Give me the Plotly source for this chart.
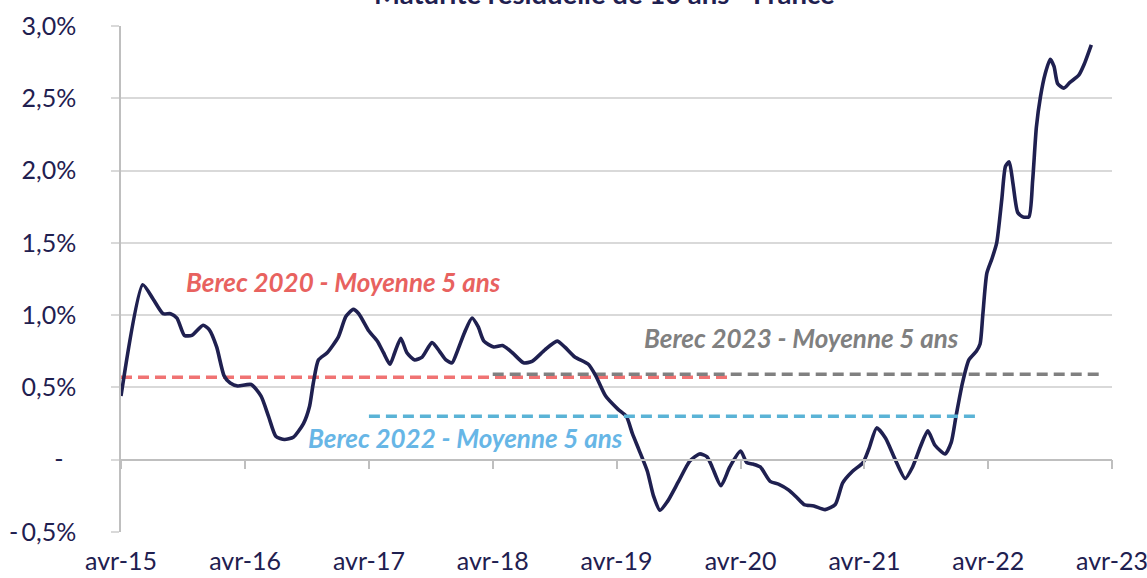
import plotly.graph_objects as go

# ---- Data ----
dates = [
    "2015-04-01", "2015-06-04", "2015-07-05", "2015-08-03", "2015-08-25", "2015-09-13",
    "2015-10-05", "2015-10-27", "2015-11-29", "2015-12-17", "2016-01-08", "2016-01-30",
    "2016-02-17", "2016-03-10", "2016-04-19", "2016-05-18", "2016-06-09", "2016-07-01",
    "2016-07-26", "2016-08-21", "2016-09-20", "2016-10-08", "2016-10-19", "2016-11-03",
    "2016-11-29", "2017-01-01", "2017-01-23", "2017-02-14", "2017-03-02", "2017-04-01",
    "2017-04-26", "2017-05-14", "2017-06-02", "2017-06-16", "2017-07-04", "2017-07-22",
    "2017-08-14", "2017-09-05", "2017-10-04", "2017-10-26", "2017-11-14", "2017-12-02",
    "2017-12-16", "2018-01-08", "2018-01-30", "2018-02-17", "2018-03-06", "2018-04-04",
    "2018-04-30", "2018-05-29", "2018-07-01", "2018-07-26", "2018-09-02", "2018-10-08",
    "2018-10-30", "2018-11-29", "2019-01-08", "2019-01-30", "2019-02-28", "2019-04-05",
    "2019-04-30", "2019-05-18", "2019-06-06", "2019-07-01", "2019-07-19", "2019-08-07",
    "2019-08-29", "2019-10-01", "2019-11-03", "2019-12-02", "2019-12-24", "2020-01-08",
    "2020-02-03", "2020-02-29", "2020-04-01", "2020-04-19", "2020-05-07", "2020-05-29",
    "2020-06-27", "2020-07-23", "2020-08-21", "2020-09-13", "2020-10-05", "2020-11-03",
    "2020-12-06", "2021-01-05", "2021-01-27", "2021-02-25", "2021-03-28", "2021-04-15",
    "2021-05-07", "2021-06-02", "2021-07-01", "2021-07-30", "2021-08-21", "2021-09-13",
    "2021-10-05", "2021-10-26", "2021-11-25", "2021-12-13", "2021-12-27", "2022-01-15",
    "2022-02-03", "2022-02-25", "2022-03-08", "2022-03-16", "2022-03-28", "2022-04-12",
    "2022-04-26", "2022-05-11", "2022-05-22", "2022-06-02", "2022-06-13", "2022-06-27",
    "2022-07-12", "2022-07-30", "2022-08-10", "2022-08-21", "2022-09-02", "2022-09-16",
    "2022-10-01", "2022-10-12", "2022-10-23", "2022-11-10", "2022-11-28", "2022-12-24",
    "2023-01-08", "2023-01-30",
]
rates = [
    0.44, 1.21, 1.11, 1.01, 1.01, 0.98,
    0.86, 0.86, 0.93, 0.90, 0.78, 0.58,
    0.53, 0.51, 0.52, 0.44, 0.30, 0.16,
    0.14, 0.155, 0.25, 0.37, 0.53, 0.69,
    0.74, 0.85, 0.99, 1.04, 1.01, 0.89,
    0.82, 0.74, 0.66, 0.74, 0.84, 0.74,
    0.69, 0.71, 0.81, 0.75, 0.69, 0.67,
    0.74, 0.88, 0.98, 0.92, 0.82, 0.78,
    0.79, 0.74, 0.67, 0.68, 0.76, 0.82,
    0.78, 0.71, 0.66, 0.58, 0.44, 0.35,
    0.30, 0.18, 0.07, -0.08, -0.25, -0.35,
    -0.29, -0.15, -0.01, 0.04, 0.02, -0.05,
    -0.18, -0.05, 0.06, -0.02, -0.03, -0.05,
    -0.15, -0.17, -0.21, -0.26, -0.31, -0.32,
    -0.345, -0.31, -0.16, -0.08, -0.02, 0.08,
    0.22, 0.15, 0.00, -0.13, -0.05, 0.09,
    0.20, 0.10, 0.04, 0.12, 0.30, 0.53,
    0.69, 0.75, 0.80, 1.00, 1.29, 1.39,
    1.50, 1.80, 2.03, 2.06, 1.91, 1.71,
    1.68, 1.68, 1.93, 2.30, 2.51, 2.67,
    2.77, 2.72, 2.60, 2.57, 2.61, 2.66,
    2.73, 2.87,
]

berec2020_dates = ["2015-04-01", "2020-03-01"]
berec2020_value = 0.571
berec2022_dates = ["2017-04-01", "2022-03-01"]
berec2022_value = 0.300
berec2023_dates = ["2018-04-01", "2023-03-01"]
berec2023_value = 0.592

x_tick_dates = ["2015-04-01", "2016-04-01", "2017-04-01", "2018-04-01", "2019-04-01",
                "2020-04-01", "2021-04-01", "2022-04-01", "2023-04-01"]
x_tick_labels = ["avr-15", "avr-16", "avr-17", "avr-18", "avr-19",
                 "avr-20", "avr-21", "avr-22", "avr-23"]
y_tick_values = [-0.5, 0.0, 0.5, 1.0, 1.5, 2.0, 2.5, 3.0]
y_tick_labels = ["-\u20090,5%", "-\u00a0\u00a0", "0,5%", "1,0%", "1,5%", "2,0%", "2,5%", "3,0%"]

title_text = "Maturité résiduelle de 10 ans - France"
label_2020 = "Berec 2020 - Moyenne 5 ans"
label_2022 = "Berec 2022 - Moyenne 5 ans"
label_2023 = "Berec 2023 - Moyenne 5 ans"

# ---- Styles ----
NAVY = "#1f2050"
RED = "#f07373"
RED_TXT = "#e8625f"
GREY = "#808080"
BLUE = "#5ab3d6"
BLUE_TXT = "#67b6e6"
GRID = "#d9d9d9"
AXIS = "#bfbfbf"
FONT = "Lato"

x_range = ["2015-04-01", "2023-04-01"]
y_range = [-0.5, 3.0]

fig = go.Figure()

fig.add_trace(go.Scatter(
    x=berec2020_dates, y=[berec2020_value] * len(berec2020_dates), mode="lines",
    line=dict(color=RED, width=3.5, dash="11px,6px"), hoverinfo="skip", showlegend=False))
fig.add_trace(go.Scatter(
    x=berec2023_dates, y=[berec2023_value] * len(berec2023_dates), mode="lines",
    line=dict(color=GREY, width=3.5, dash="11px,6px"), hoverinfo="skip", showlegend=False))
fig.add_trace(go.Scatter(
    x=berec2022_dates, y=[berec2022_value] * len(berec2022_dates), mode="lines",
    xaxis="x2", line=dict(color=BLUE, width=3.5, dash="11px,6px"),
    hoverinfo="skip", showlegend=False))
fig.add_trace(go.Scatter(
    x=dates, y=rates, mode="lines",
    line=dict(color=NAVY, width=3.6, shape="spline", smoothing=0.6),
    showlegend=False))

zero_pos = (0 - y_range[0]) / (y_range[1] - y_range[0])

fig.update_layout(
    width=1147, height=578,
    margin=dict(l=121, r=35, t=26, b=46),
    plot_bgcolor="white", paper_bgcolor="white",
    font=dict(family=FONT, size=25, color=NAVY),
    xaxis=dict(
        type="date", range=x_range, tickvals=x_tick_dates, ticktext=x_tick_labels,
        showgrid=False, zeroline=False, showline=False, ticks="", automargin=False,
        ticklabeloverflow="allow",
        ticklabelstandoff=12, tickfont=dict(family=FONT, size=25, color=NAVY),
    ),
    xaxis2=dict(
        type="date", range=x_range, overlaying="x", anchor="free", position=zero_pos,
        tickvals=x_tick_dates, showticklabels=False, ticks="outside", ticklen=9,
        tickwidth=1.5, tickcolor=AXIS, showline=True, linecolor=AXIS, linewidth=1.5,
        showgrid=False, zeroline=False, automargin=False,
    ),
    yaxis=dict(
        range=y_range, tickvals=y_tick_values, ticktext=y_tick_labels,
        showgrid=True, gridcolor=GRID, gridwidth=1.5, zeroline=False,
        showline=True, linecolor=AXIS, linewidth=1.5, automargin=False,
        ticks="outside", ticklen=8, tickwidth=1.5, tickcolor=GRID,
        ticklabelstandoff=30, tickfont=dict(family=FONT, size=25, color=NAVY),
    ),
    annotations=[
        dict(text="<b>" + title_text + "</b>", xref="paper", yref="paper",
             x=0.488, y=1.065, xanchor="center", yanchor="middle", showarrow=False,
             font=dict(family=FONT, size=27.5, color=NAVY)),
        dict(text="<b><i>" + label_2020 + "</i></b>", x="2017-01-17", y=1.226,
             xanchor="center", yanchor="middle", showarrow=False,
             font=dict(family=FONT, size=26, color=RED_TXT)),
        dict(text="<b><i>" + label_2023 + "</i></b>", x="2020-09-27", y=0.845,
             xanchor="center", yanchor="middle", showarrow=False,
             font=dict(family=FONT, size=26, color=GREY)),
        dict(text="<b><i>" + label_2022 + "</i></b>", x="2018-01-10", y=0.152,
             xanchor="center", yanchor="middle", showarrow=False,
             font=dict(family=FONT, size=26, color=BLUE_TXT)),
    ],
)

fig.write_html(
    "out.html",
    config={"displayModeBar": False},
    post_script="document.body.style.margin='0';",
)
